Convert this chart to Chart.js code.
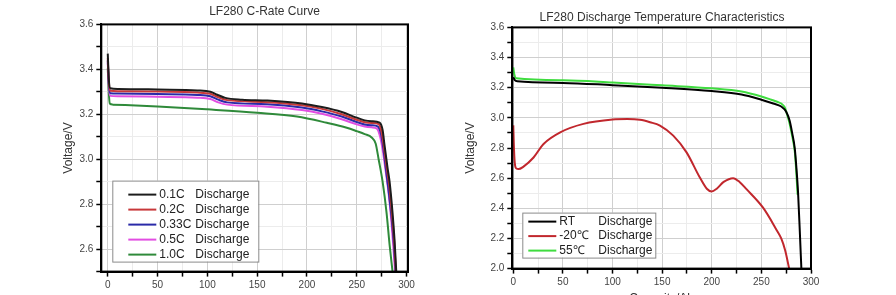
<!DOCTYPE html>
<html lang="en">
<head>
    <meta charset="UTF-8">
    <title>LF280 Discharge Curves</title>
    <script src="https://cdn.jsdelivr.net/npm/chart.js"></script>
    <style>
        html, body { margin: 0; padding: 0; background: #fff; overflow: hidden; }
        #wrap { position: relative; width: 896px; height: 295px; overflow: hidden; }
        #leftChart { position: absolute; left: 0; top: 0; }
        #rightChart { position: absolute; left: 448px; top: 0; }
    </style>
</head>
<body>
    <div id="wrap">
        <canvas id="leftChart" width="530" height="312"></canvas>
        <canvas id="rightChart" width="428" height="313"></canvas>
    </div>

    <script>
        // ---- left chart: C-rate curves (capacity Ah, voltage V) ----
        const rateNames = ['0.1C', '0.2C', '0.33C', '0.5C', '1.0C'];
        const rateColors = ['#1c1c1c', '#c8383a', '#2a2aa8', '#e24ee2', '#2f8a3a'];

        const rate01 = [[0,3.47],[1,3.36],[2.5,3.316],[10,3.313],[50,3.31],[90,3.306],[103,3.30],[110,3.287],[118,3.273],[135,3.265],[160,3.261],[195,3.248],[215,3.232],[235,3.21],[250,3.185],[258,3.173],[265,3.169],[273,3.163],[276,3.13],[278,3.06],[281,2.96],[283,2.9],[286,2.76],[288,2.64],[289.7,2.5]];
        const rate02 = [[0,3.45],[1,3.35],[2.5,3.305],[10,3.303],[50,3.301],[90,3.297],[103,3.291],[111,3.276],[120,3.263],[160,3.254],[195,3.24],[215,3.224],[235,3.2],[250,3.176],[258,3.165],[265,3.161],[272,3.156],[275,3.12],[277.5,3.05],[280.5,2.95],[282.5,2.89],[285.5,2.75],[287.7,2.63],[289.3,2.5]];
        const rate033 = [[0,3.44],[1,3.34],[2.5,3.294],[10,3.292],[50,3.29],[90,3.286],[103,3.28],[111,3.265],[120,3.253],[160,3.245],[195,3.23],[215,3.213],[235,3.19],[250,3.166],[258,3.155],[265,3.151],[271,3.146],[274.5,3.11],[277,3.04],[279.5,2.95],[282,2.86],[285,2.74],[287.3,2.62],[289,2.5]];
        const rate05 = [[0,3.43],[1,3.33],[2.5,3.282],[10,3.28],[50,3.278],[90,3.274],[103,3.268],[111,3.253],[120,3.243],[160,3.234],[195,3.219],[215,3.202],[235,3.178],[250,3.155],[258,3.146],[265,3.142],[270,3.137],[273.5,3.1],[276.5,3.03],[279,2.95],[282,2.85],[284.7,2.73],[286.8,2.61],[288.5,2.5]];
        const rate10 = [[0,3.405],[1,3.3],[2,3.248],[5,3.243],[50,3.235],[100,3.222],[150,3.207],[190,3.19],[220,3.162],[240,3.14],[250,3.125],[258,3.112],[265,3.097],[269,3.07],[272,3.0],[276,2.9],[280,2.76],[283,2.62],[286,2.5]];

        const leftXTicks = [0,25,50,75,100,125,150,175,200,225,250,275,300];
        const leftXLabels = [0,50,100,150,200,250,300];
        const leftYTicks = [2.5,2.6,2.7,2.8,2.9,3.0,3.1,3.2,3.3,3.4,3.5,3.6];
        const leftYLabels = [2.6,2.8,3.0,3.2,3.4,3.6];

        // ---- right chart: discharge at different temperatures ----
        const tempNames = ['RT', '-20\u2103', '55\u2103'];
        const tempColors = ['#000000', '#c1272d', '#3fdc3f'];

        const tempRT = [[0,3.27],[1.5,3.25],[4,3.242],[50,3.232],[100,3.217],[150,3.2],[200,3.178],[230,3.155],[250,3.12],[262,3.095],[270,3.075],[275,3.04],[278.5,2.98],[281,2.9],[283.6,2.8],[285.5,2.65],[287,2.5],[288.7,2.25],[290.3,2.0]];
        const tempMinus20 = [[0,2.95],[0.5,2.83],[1.5,2.7],[3,2.665],[5.3,2.66],[10,2.675],[20.4,2.737],[30.5,2.827],[47.3,2.904],[70.7,2.96],[100,2.989],[115,2.992],[127.7,2.987],[137.8,2.971],[147.8,2.949],[161.2,2.882],[174.6,2.771],[188,2.604],[195,2.53],[199.8,2.512],[205,2.53],[212,2.575],[221.5,2.6],[228,2.575],[235,2.527],[251.7,2.404],[265,2.26],[270,2.2],[274,2.12],[278,2.0]];
        const temp55 = [[0,3.335],[1,3.29],[3,3.262],[50,3.25],[100,3.235],[150,3.216],[200,3.196],[230,3.175],[250,3.142],[260,3.12],[266.5,3.105],[270,3.095],[273.5,3.07],[276,3.02],[278.5,2.96],[281,2.88],[283.6,2.78],[285,2.66],[286.5,2.49]];

        const rightXTicks = [0,25,50,75,100,125,150,175,200,225,250,275,300];
        const rightXLabels = [0,50,100,150,200,250,300];
        const rightYTicks = [2.0,2.1,2.2,2.3,2.4,2.5,2.6,2.7,2.8,2.9,3.0,3.1,3.2,3.3,3.4,3.5,3.6];
        const rightYLabels = [2.0,2.2,2.4,2.6,2.8,3.0,3.2,3.4,3.6];

        Chart.defaults.font.family = '"Liberation Sans", Arial, sans-serif';
        Chart.defaults.color = '#444';

        // black frame around the plot area, title nudged sideways
        const framePlugin = {
            id: 'frame',
            afterLayout(chart, args, opts) {
                if (chart.titleBlock && opts.titleShift) {
                    chart.titleBlock.left += opts.titleShift;
                    chart.titleBlock.right += opts.titleShift;
                }
            },
            afterDatasetsDraw(chart) {
                const a = chart.chartArea;
                const ctx = chart.ctx;
                ctx.save();
                ctx.strokeStyle = '#000';
                ctx.lineWidth = 2;
                ctx.strokeRect(a.left, a.top, a.right - a.left, a.bottom - a.top);
                ctx.restore();
            }
        };

        // legend box drawn inside the plot area, two text columns
        const boxLegendPlugin = {
            id: 'boxLegend',
            afterDraw(chart, args, opts) {
                const a = chart.chartArea;
                const ctx = chart.ctx;
                const sets = chart.data.datasets;
                const x0 = a.left + opts.left;
                const y0 = a.bottom - opts.bottom - opts.height;
                ctx.save();
                ctx.fillStyle = '#fff';
                ctx.fillRect(x0, y0, opts.width, opts.height);
                ctx.strokeStyle = '#8a8a8a';
                ctx.lineWidth = 1;
                ctx.strokeRect(x0 + 0.5, y0 + 0.5, opts.width, opts.height);
                ctx.font = '12px "Liberation Sans", Arial, sans-serif';
                ctx.textBaseline = 'middle';
                sets.forEach((ds, i) => {
                    const y = y0 + opts.firstRow + i * opts.rowGap;
                    ctx.strokeStyle = ds.borderColor;
                    ctx.lineWidth = 2;
                    ctx.beginPath();
                    ctx.moveTo(x0 + opts.lineFrom, y);
                    ctx.lineTo(x0 + opts.lineTo, y);
                    ctx.stroke();
                    ctx.fillStyle = '#222';
                    ctx.fillText(ds.name, x0 + opts.nameAt, y);
                    ctx.fillText(opts.suffix, x0 + opts.suffixAt, y);
                });
                ctx.restore();
            }
        };

        function makeSets(names, colors, series) {
            return names.map((name, i) => ({
                label: name + ' Discharge',
                name: name,
                data: series[i].map(p => ({ x: p[0], y: p[1] })),
                borderColor: colors[i],
                backgroundColor: colors[i],
                borderWidth: 2,
                pointRadius: 0,
                showLine: true,
                cubicInterpolationMode: 'monotone'
            }));
        }

        function axis(min, max, tickVals, labelVals, decimals, extra) {
            return Object.assign({
                type: 'linear',
                min: min,
                max: max,
                afterBuildTicks: scale => {
                    scale.ticks = tickVals.map(v => ({ value: v }));
                },
                ticks: {
                    autoSkip: false,
                    maxRotation: 0,
                    font: { size: 10 },
                    color: '#444',
                    callback: v => labelVals.some(l => Math.abs(l - v) < 1e-6) ? v.toFixed(decimals) : ''
                },
                grid: {
                    color: c => (c.tick && labelVals.some(l => Math.abs(l - c.tick.value) < 1e-6)) ? '#cfcfcf' : '#ececec',
                    tickColor: '#000',
                    tickLength: 5,
                    tickWidth: 1.5
                },
                border: { color: '#000', width: 2 }
            }, extra);
        }

        new Chart(document.getElementById('leftChart').getContext('2d'), {
            type: 'scatter',
            data: { datasets: makeSets(rateNames, rateColors, [rate01, rate02, rate033, rate05, rate10]) },
            options: {
                responsive: false,
                animation: false,
                layout: { padding: { left: 61, right: 122, top: 0, bottom: 3 } },
                plugins: {
                    legend: { display: false },
                    tooltip: { enabled: false },
                    title: {
                        display: true,
                        text: 'LF280 C-Rate Curve',
                        color: '#333',
                        font: { size: 12, weight: 'normal' },
                        padding: { top: 4, bottom: 6 }
                    },
                    frame: { titleShift: 30 },
                    boxLegend: {
                        left: 11, bottom: 10, width: 146, height: 81,
                        firstRow: 14, rowGap: 15,
                        lineFrom: 16, lineTo: 44, nameAt: 47, suffixAt: 83,
                        suffix: 'Discharge'
                    }
                },
                scales: {
                    x: axis(-6.5, 301.5, leftXTicks, leftXLabels, 0, {
                        title: { display: true, text: 'Capacity/Ah', color: '#333', font: { size: 12 }, padding: { top: 0, bottom: 0 } }
                    }),
                    y: axis(2.5, 3.6, leftYTicks, leftYLabels, 1, {
                        title: { display: true, text: 'Voltage/V', color: '#333', font: { size: 12 }, padding: { top: 0, bottom: 1 } }
                    })
                }
            },
            plugins: [framePlugin, boxLegendPlugin]
        });

        new Chart(document.getElementById('rightChart').getContext('2d'), {
            type: 'scatter',
            data: { datasets: makeSets(tempNames, tempColors, [tempRT, tempMinus20, temp55]) },
            options: {
                responsive: false,
                animation: false,
                layout: { padding: { left: 15, right: 65, top: 0, bottom: 7 } },
                plugins: {
                    legend: { display: false },
                    tooltip: { enabled: false },
                    title: {
                        display: true,
                        text: 'LF280 Discharge Temperature Characteristics',
                        color: '#333',
                        font: { size: 12, weight: 'normal' },
                        padding: { top: 10, bottom: 3 }
                    },
                    frame: { titleShift: 25 },
                    boxLegend: {
                        left: 10, bottom: 11, width: 133, height: 45,
                        firstRow: 9, rowGap: 14.5,
                        lineFrom: 6, lineTo: 34, nameAt: 37, suffixAt: 76,
                        suffix: 'Discharge'
                    }
                },
                scales: {
                    x: axis(-1, 300, rightXTicks, rightXLabels, 0, {
                        title: { display: true, text: 'Capacity/Ah', color: '#333', font: { size: 12 }, padding: { top: 0, bottom: 0 } }
                    }),
                    y: axis(2.0, 3.6, rightYTicks, rightYLabels, 1, {
                        title: { display: true, text: 'Voltage/V', color: '#333', font: { size: 12 }, padding: { top: 0, bottom: 10 } }
                    })
                }
            },
            plugins: [framePlugin, boxLegendPlugin]
        });
    </script>
</body>
</html>
